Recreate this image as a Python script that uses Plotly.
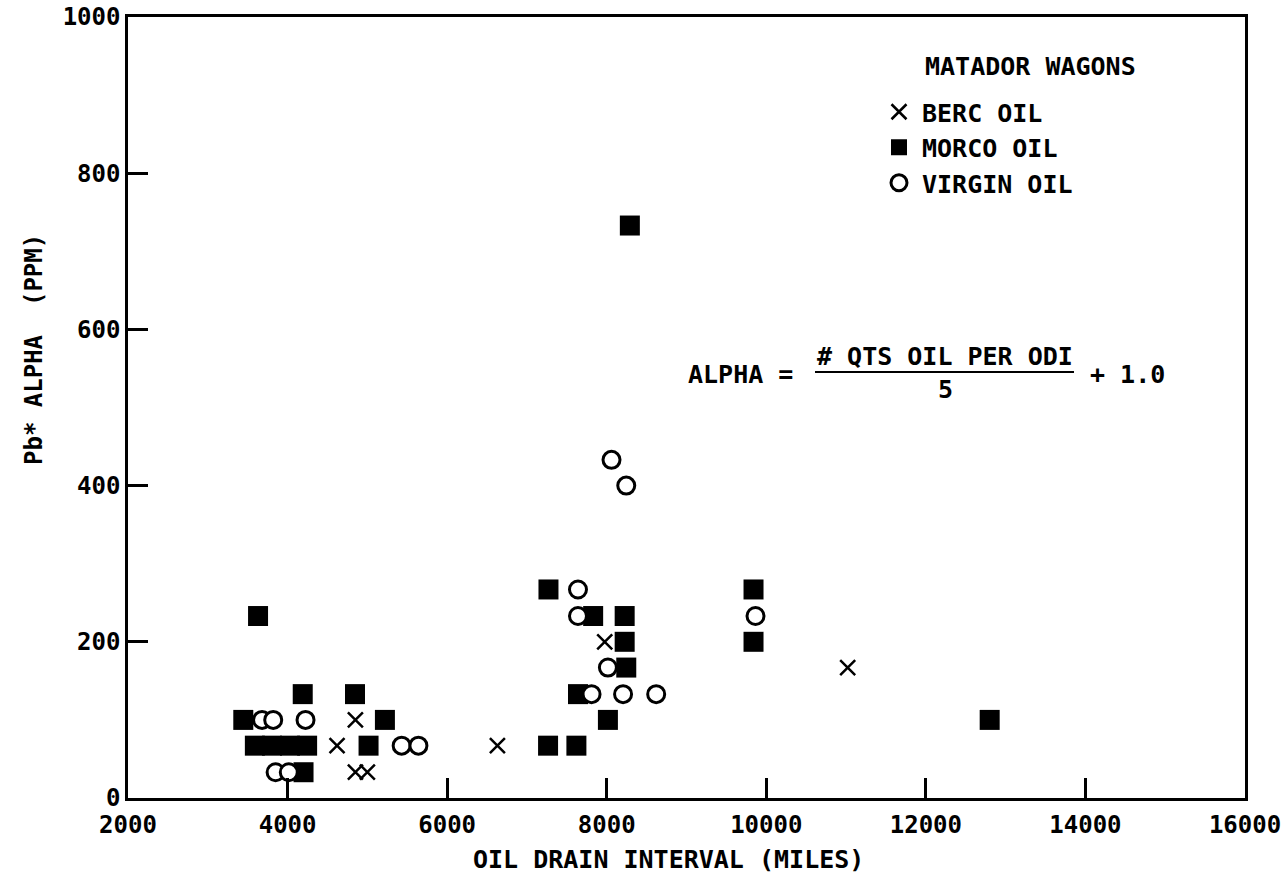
import plotly.graph_objects as go

# Oil drain interval (miles) vs Pb*ALPHA (ppm), Matador wagons
berc_x = [4850, 4620, 4850, 5000, 6630, 7975, 11020]
berc_y = [100, 67, 33, 33, 67, 200, 167]

morco_x = [3630, 4190, 4845, 3445, 5220, 3590, 3805, 4030, 4245, 5015, 4200,
           7270, 7830, 8225, 8225, 8245, 7640, 8015, 7265, 7620,
           9840, 9840, 12800, 8290]
morco_y = [233, 133, 133, 100, 100, 67, 67, 67, 67, 67, 33,
           267, 233, 233, 200, 167, 133, 100, 67, 67,
           267, 200, 100, 733]

virgin_x = [3680, 3820, 4225, 5430, 5640, 3850, 4015,
            7640, 7640, 8015, 7810, 8205, 8620, 9865, 8060, 8245]
virgin_y = [100, 100, 100, 67, 67, 33, 33,
            267, 233, 167, 133, 133, 133, 233, 433, 400]

x_ticks = [2000, 4000, 6000, 8000, 10000, 12000, 14000, 16000]
y_ticks = [0, 200, 400, 600, 800, 1000]

FONT = "DejaVu Sans Mono"
W, H = 1283, 885
L, R, T, B = 128, 1245, 17, 798


def px(x):
    return (x - L) / (R - L)


def py(y):
    return (B - y) / (B - T)


fig = go.Figure()
fig.add_trace(go.Scatter(
    x=berc_x, y=berc_y, mode="markers", name="BERC OIL",
    marker=dict(symbol="x-thin-open", size=15, color="black",
                line=dict(width=2.5, color="black"))))
fig.add_trace(go.Scatter(
    x=morco_x, y=morco_y, mode="markers", name="MORCO OIL",
    marker=dict(symbol="square", size=20, color="black",
                line=dict(width=0))))
fig.add_trace(go.Scatter(
    x=virgin_x, y=virgin_y, mode="markers", name="VIRGIN OIL",
    marker=dict(symbol="circle", size=17, color="white",
                line=dict(width=3, color="black"))))

axis_common = dict(
    showline=True, linewidth=2.5, linecolor="black", mirror=True,
    ticks="inside", ticklen=20, tickwidth=2.5, tickcolor="black",
    showgrid=False, zeroline=False, automargin=False,
    tickfont=dict(family=FONT, size=24, color="black", weight="bold"),
)

fig.update_layout(
    width=W, height=H, autosize=False,
    margin=dict(l=L, r=W - R, t=T, b=H - B, pad=0, autoexpand=False),
    paper_bgcolor="white", plot_bgcolor="white",
    xaxis=dict(range=[2000, 16000], tickvals=x_ticks,
               ticktext=[str(v) for v in x_ticks], ticklabelstandoff=3,
               **axis_common),
    yaxis=dict(range=[0, 1000], tickvals=y_ticks,
               ticktext=[str(v) for v in y_ticks], **axis_common),
    showlegend=True,
    legend=dict(x=px(876), y=py(89), xanchor="left", yanchor="top",
                bgcolor="rgba(0,0,0,0)", borderwidth=0,
                font=dict(family=FONT, size=25, color="black", weight="bold"),
                itemwidth=36, itemsizing="trace", tracegroupgap=0),
)

ann_font = dict(family=FONT, size=25, color="black", weight="bold")
annotations = [
    dict(text="MATADOR WAGONS", x=px(923), y=py(67), xanchor="left", yanchor="middle"),
    dict(text="ALPHA =", x=px(686), y=py(374), xanchor="left", yanchor="middle"),
    dict(text="# QTS OIL PER ODI", x=px(815), y=py(356), xanchor="left", yanchor="middle"),
    dict(text="5", x=px(945), y=py(389), xanchor="center", yanchor="middle"),
    dict(text="+ 1.0", x=px(1088), y=py(374), xanchor="left", yanchor="middle"),
    dict(text="OIL DRAIN INTERVAL (MILES)", x=px(668), y=py(859),
         xanchor="center", yanchor="middle"),
    dict(text="Pb* ALPHA  (PPM)", x=px(34), y=py(350), textangle=-90,
         xanchor="center", yanchor="middle",
         font=dict(family=FONT, size=24, color="black", weight="bold")),
]
for a in annotations:
    a.setdefault("font", ann_font)
    fig.add_annotation(xref="paper", yref="paper", showarrow=False, **a)

# fraction bar
fig.add_shape(type="line", xref="paper", yref="paper",
              x0=px(815), x1=px(1074), y0=py(372), y1=py(372),
              line=dict(color="black", width=2))

fig.write_html("out.html")
